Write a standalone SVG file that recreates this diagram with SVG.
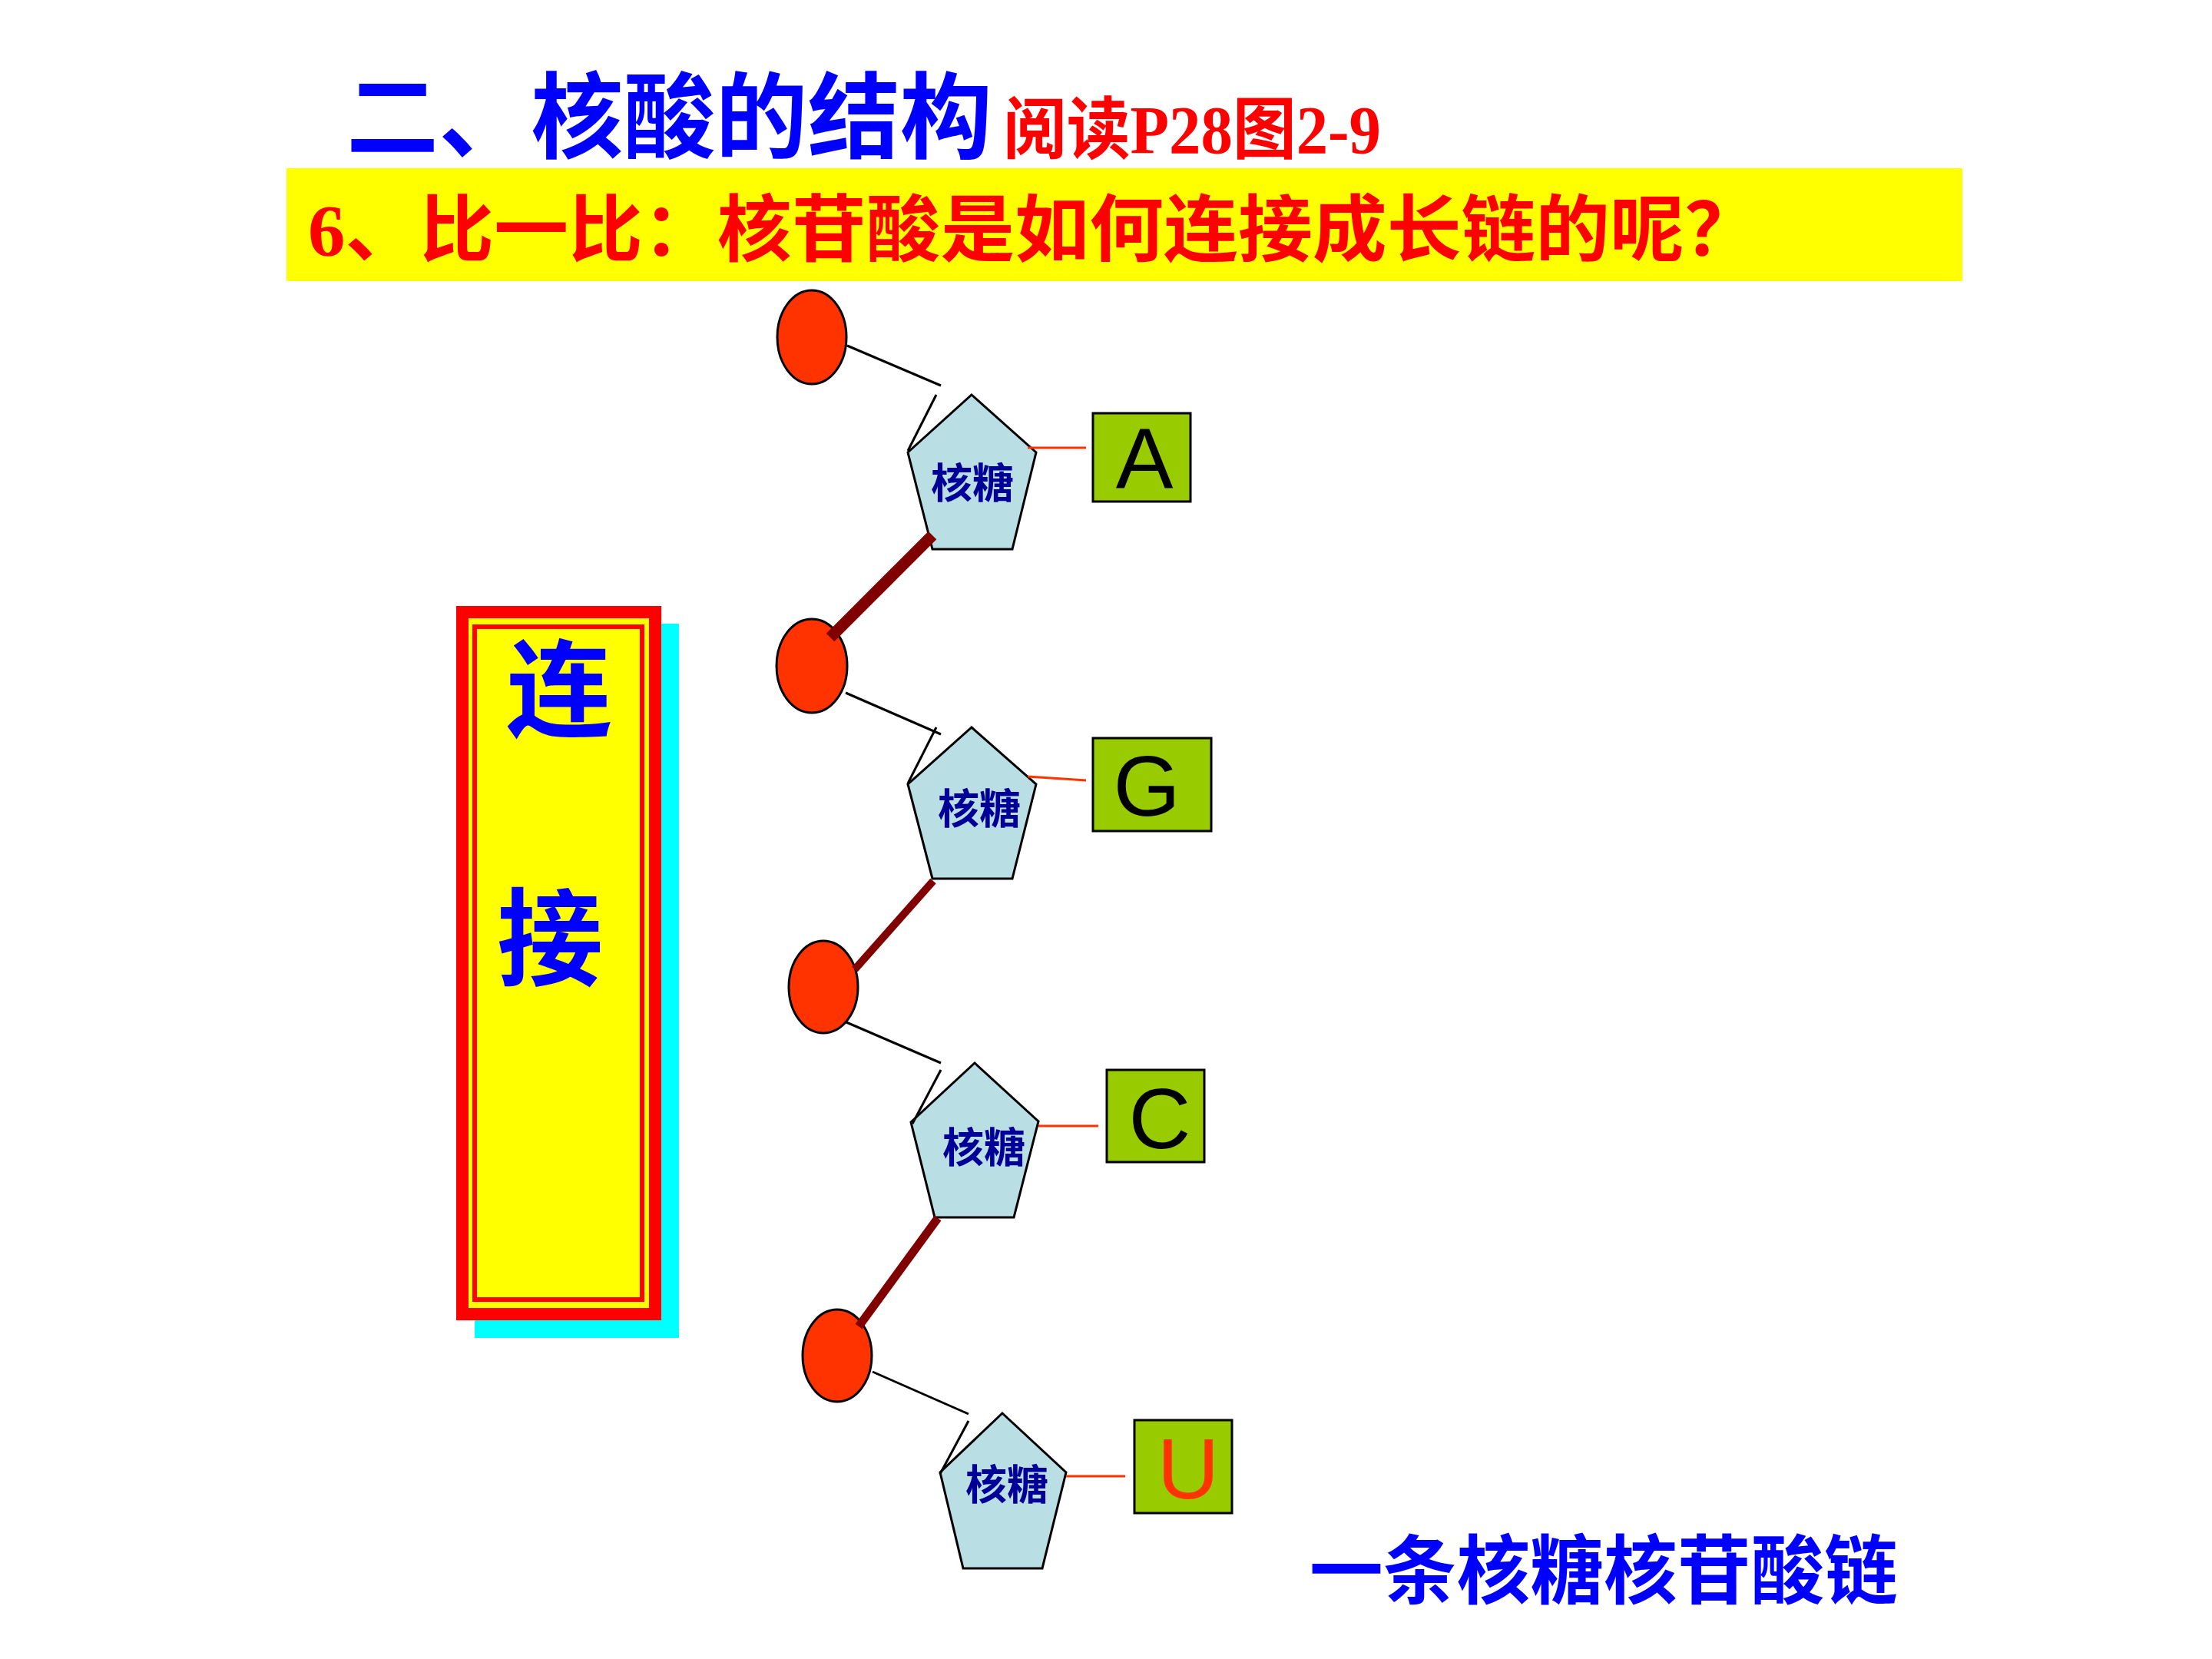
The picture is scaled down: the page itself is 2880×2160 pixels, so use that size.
<svg xmlns="http://www.w3.org/2000/svg" width="2880" height="2160" viewBox="0 0 2880 2160">
<defs>
<style>
.cjk{font-family:"Noto Sans CJK SC","Noto Sans",sans-serif;font-weight:bold}
.phos{fill:#FF3300;stroke:#000;stroke-width:3}
.sugar{fill:#B9DEE3;stroke:#000;stroke-width:3;stroke-linejoin:miter}
.sugartxt{font-family:"Noto Sans CJK SC",sans-serif;font-weight:bold;font-size:54px;fill:#000099;text-anchor:middle}
.base{fill:#99CC00;stroke:#000;stroke-width:3}
.basetxt{font-family:"Liberation Sans",Arial,sans-serif;font-size:112px;text-anchor:middle}
.thin{stroke:#000;stroke-width:3;fill:none}
.red{stroke:#FF3300;stroke-width:3;fill:none}
.thick{stroke:#800000;fill:none;stroke-linecap:butt}
</style>
</defs>
<rect width="2880" height="2160" fill="#fff"/>

<g id="title">
<text x="451" y="196" class="cjk" font-size="122" fill="#0000FF" textLength="841" lengthAdjust="spacingAndGlyphs">二、核酸的结构</text>
<text x="1306" y="199" font-family="'Liberation Serif','Noto Sans CJK SC',serif" font-weight="bold" font-size="88" fill="#FF0000" textLength="492" lengthAdjust="spacingAndGlyphs">阅读P28图2-9</text>
</g>

<g id="subtitle">
<rect x="373" y="219" width="2182" height="147" fill="#FFFF00"/>
<text x="401" y="333" font-family="'Liberation Serif','Noto Sans CJK SC',serif" font-weight="bold" font-size="95" fill="#FF0000" textLength="1889" lengthAdjust="spacingAndGlyphs">6、比一比：核苷酸是如何连接成长链的呢？</text>
</g>

<g id="label-lianjie">
<rect x="618" y="812" width="266" height="930" fill="#00FFFF"/>
<rect x="594" y="789" width="267" height="930" fill="#FF0000"/>
<rect x="610" y="805" width="235" height="898" fill="#FFFF00"/>
<rect x="618" y="816" width="218" height="876" fill="none" stroke="#FF0000" stroke-width="6"/>
<text x="728" y="948" class="cjk" font-size="138" font-weight="900" fill="#0000FF" text-anchor="middle">连</text>
<text x="716" y="1272" class="cjk" font-size="138" font-weight="900" fill="#0000FF" text-anchor="middle">接</text>
</g>

<g id="nucleotide-1">
<ellipse class="phos" cx="1057" cy="439" rx="45" ry="61"/>
<polygon class="sugar" points="1265,514 1349,589 1318,715 1214,715 1182,589"/>
<text class="sugartxt" x="1266" y="649">核糖</text>
<rect class="base" x="1423" y="538" width="127" height="115"/>
<text class="basetxt" x="1490" y="635" fill="#000">A</text>
</g>

<g id="nucleotide-2">
<ellipse class="phos" cx="1057" cy="867" rx="46" ry="61"/>
<polygon class="sugar" points="1265,947 1349,1021 1318,1144 1214,1144 1182,1021"/>
<text class="sugartxt" x="1275" y="1073">核糖</text>
<rect class="base" x="1423" y="961" width="154" height="121"/>
<text class="basetxt" x="1493" y="1062" fill="#000">G</text>
</g>

<g id="nucleotide-3">
<ellipse class="phos" cx="1072" cy="1285" rx="45" ry="60"/>
<polygon class="sugar" points="1269,1384 1352,1460 1320,1585 1217,1585 1186,1461"/>
<text class="sugartxt" x="1281" y="1514">核糖</text>
<rect class="base" x="1441" y="1393" width="127" height="120"/>
<text class="basetxt" x="1510" y="1495" fill="#000">C</text>
</g>

<g id="nucleotide-4">
<ellipse class="phos" cx="1090" cy="1765" rx="45" ry="60"/>
<polygon class="sugar" points="1305,1840 1388,1917 1357,2042 1254,2042 1224,1917"/>
<text class="sugartxt" x="1311" y="1953">核糖</text>
<rect class="base" x="1477" y="1849" width="127" height="121"/>
<text class="basetxt" x="1547" y="1951" fill="#FF3300">U</text>
</g>

<g id="connectors">
<line class="thin" x1="1103" y1="450" x2="1225" y2="502"/>
<line class="thin" x1="1219" y1="514" x2="1182" y2="587"/>
<line class="thin" x1="1101" y1="902" x2="1225" y2="956"/>
<line class="thin" x1="1219" y1="947" x2="1182" y2="1020"/>
<line class="thin" x1="1102" y1="1331" x2="1225" y2="1384"/>
<line class="thin" x1="1225" y1="1393" x2="1188" y2="1463"/>
<line class="thin" x1="1136" y1="1786" x2="1261" y2="1841"/>
<line class="thin" x1="1261" y1="1850" x2="1224" y2="1919"/>
<line class="red" x1="1338" y1="583" x2="1414" y2="583"/>
<line class="red" x1="1338" y1="1011" x2="1414" y2="1016"/>
<line class="red" x1="1352" y1="1466" x2="1430" y2="1466"/>
<line class="red" x1="1388" y1="1922" x2="1465" y2="1922"/>
<line class="thick" stroke-width="15" x1="1214" y1="697" x2="1081" y2="830"/>
<line class="thick" stroke-width="10" x1="1215" y1="1147" x2="1113" y2="1262"/>
<line class="thick" stroke-width="11" x1="1221" y1="1586" x2="1118" y2="1727"/>
</g>

<g id="caption">
<text x="1705" y="2080" class="cjk" font-size="98" fill="#0000FF" textLength="766" lengthAdjust="spacingAndGlyphs">一条核糖核苷酸链</text>
</g>
</svg>
